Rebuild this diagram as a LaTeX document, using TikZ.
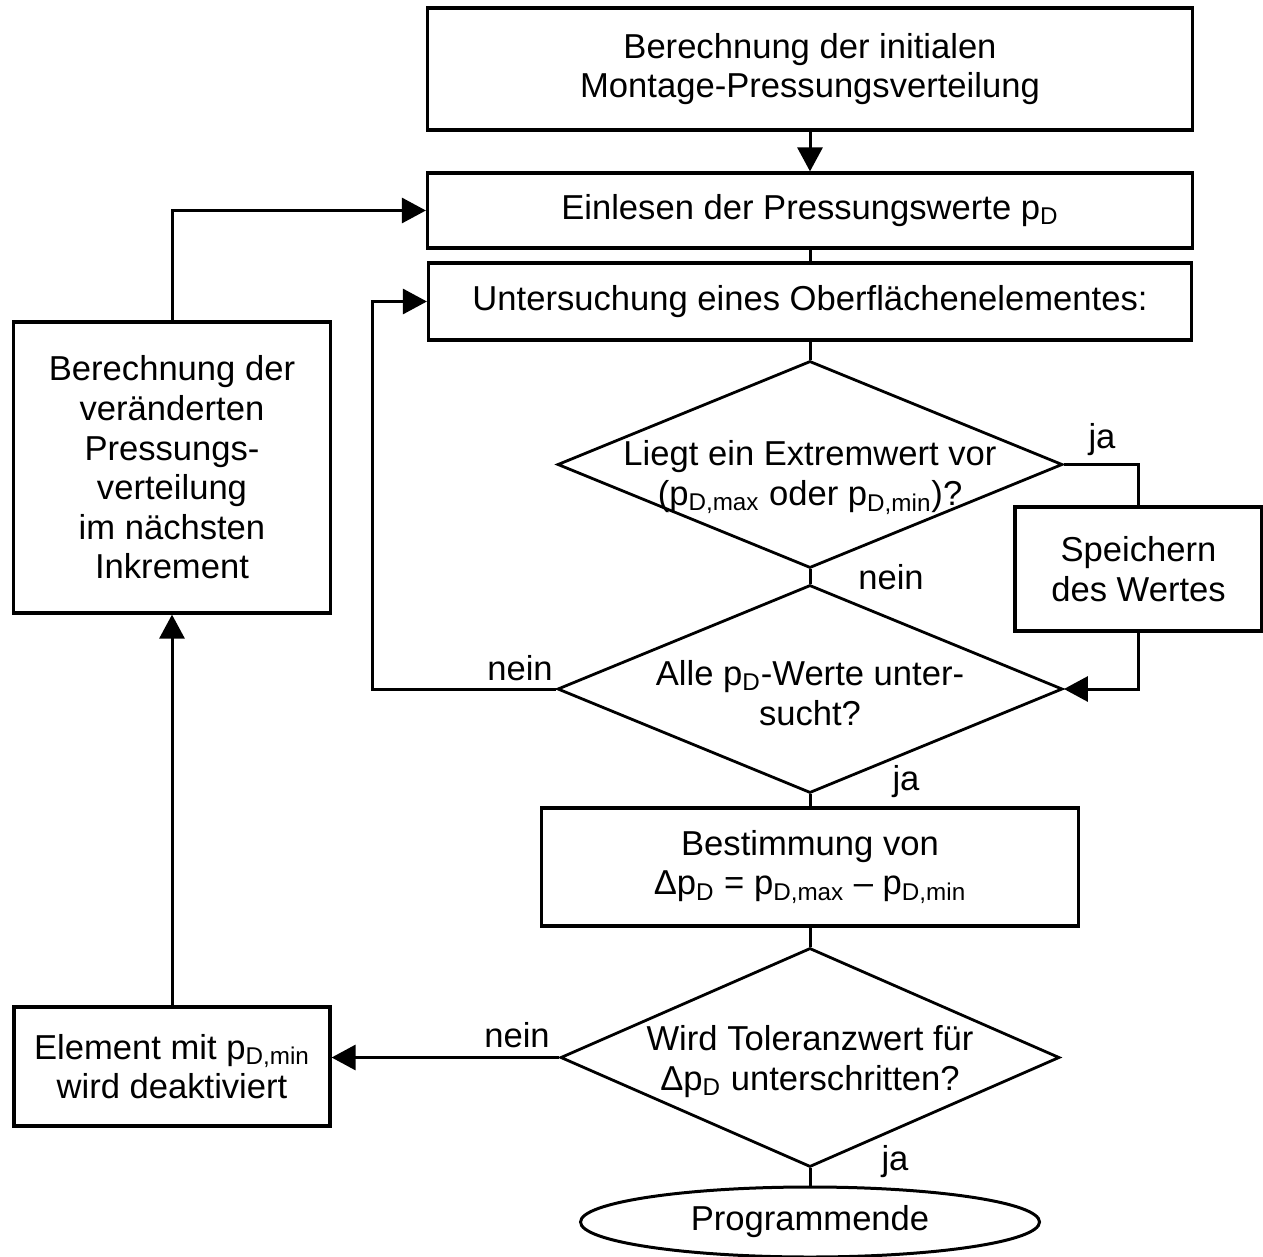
\documentclass[tikz,border=0pt]{standalone}
\usepackage{fontspec}
\setmainfont{Liberation Sans}
\usetikzlibrary{shapes.geometric,arrows.meta}
\begin{document}
\begin{tikzpicture}[x=0.5pt,y=-0.5pt,
  every node/.style={font=\fontsize{17.3pt}{19.8pt}\selectfont},
  box/.style={draw, line width=1.6pt, inner sep=0pt, align=center, rectangle},
  dia/.style={draw, diamond, line width=1.4pt, inner sep=0pt},
  dtext/.style={inner sep=0pt, align=center},
  lbl/.style={inner sep=0pt},
  conn/.style={line width=1.5pt},
  arr/.style={conn, -{Triangle[length=12pt,width=12.5pt]}},
]
\useasboundingbox (0,0) rectangle (1263,1257);

% boxes
\node[box, minimum width=382.5pt, minimum height=61pt] (b1) at (810,69)
  {Berechnung der initialen\\Montage-Pressungsverteilung};
\node[box, minimum width=382.5pt, minimum height=37.5pt] (b2) at (810,210.5)
  {Einlesen der Pressungswerte p\textsubscript{D}};
\node[box, minimum width=381.5pt, minimum height=38.5pt] (b3) at (810,301.5)
  {Untersuchung eines Oberflächenelementes:};

% diamond 1
\node[dia, minimum width=252.5pt, minimum height=103.5pt] (d1) at (810,464.5) {};
\node[dtext] (d1t) at ([yshift=-6.5pt]d1.center)
  {Liegt ein Extremwert vor\\(p\textsubscript{D,max} oder p\textsubscript{D,min})?};

% Speichern
\node[box, minimum width=123.5pt, minimum height=62pt] (sp) at (1138.5,569)
  {Speichern\\des Wertes};

% diamond 2
\node[dia, minimum width=252.5pt, minimum height=104pt] (d2) at (810,689) {};
\node[dtext] (d2t) at ([yshift=-2pt]d2.center)
  {Alle p\textsubscript{D}-Werte unter-\\sucht?};

% box 4
\node[box, minimum width=268.5pt, minimum height=59pt] (b4) at (810,867)
  {Bestimmung von\\Δp\textsubscript{D} = p\textsubscript{D,max} – p\textsubscript{D,min}};

% diamond 3
\node[dia, minimum width=249.5pt, minimum height=109.5pt] (d3) at (810,1057.5) {};
\node[dtext] (d3t) at ([yshift=-2pt]d3.center)
  {Wird Toleranzwert für\\Δp\textsubscript{D} unterschritten?};

% end ellipse
\node[draw, ellipse, line width=1.5pt, inner sep=0pt, minimum width=229.5pt, minimum height=35pt] (ell) at (810,1222)
  {Programmende};

% left boxes
\node[box, minimum width=158pt, minimum height=59.5pt] (b5) at (172,1066.5)
  {Element mit p\textsubscript{D,min}\\wird deaktiviert};
\node[box, minimum width=158.5pt, minimum height=145.5pt] (b6) at (172,467.5)
  {Berechnung der\\veränderten\\Pressungs-\\verteilung\\im nächsten\\Inkrement};

% labels
\node[lbl] (l1) at (1102,440) {ja};
\node[lbl] (l2) at (891,577) {nein};
\node[lbl] (l3) at (520,668) {nein};
\node[lbl] (l4) at (906,782) {ja};
\node[lbl] (l5) at (517,1035) {nein};
\node[lbl] (l6) at (895,1162) {ja};

\coordinate (c1) at (372,689);

% connectors
\draw[arr] (b1.south) -- (b2.north);
\draw[conn] (b2.south) -- (b3.north);
\draw[conn] (b3.south) -- (d1.north);
\draw[conn] (d1.east) -| (sp.north);
\draw[arr] (sp.south) |- (d2.east);
\draw[conn] (d1.south) -- (d2.north);
\draw[arr] (d2.west) -- (c1) |- (b3.west);
\draw[conn] (d2.south) -- (b4.north);
\draw[conn] (b4.south) -- (d3.north);
\draw[arr] (d3.west) -- (d3.west -| b5.east);
\draw[conn] (d3.south) -- (ell.north);
\draw[arr] (b5.north) -- (b6.south);
\draw[arr] (b6.north) |- (b2.west);
\end{tikzpicture}
\end{document}
